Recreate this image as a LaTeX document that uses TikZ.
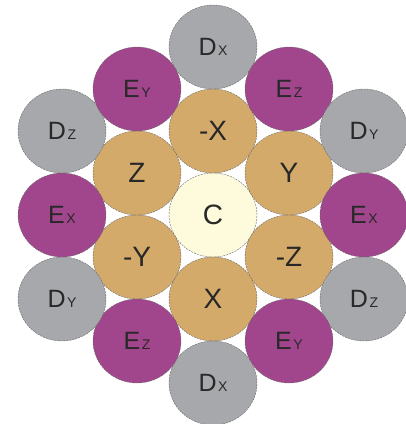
\documentclass[tikz,border=0pt]{standalone}
\usepackage{fontspec}
\setmainfont{Liberation Sans}
\usetikzlibrary{shapes.geometric}
\definecolor{ballgray}{RGB}{167,168,171}
\definecolor{ballpurple}{RGB}{161,70,140}
\definecolor{balltan}{RGB}{212,170,107}
\definecolor{ballcream}{RGB}{254,250,220}
\definecolor{inkgray}{RGB}{40,40,40}
\newcommand{\lbl}[2]{{\fontsize{25}{25}\selectfont #1}\kern1.5pt{\fontsize{14}{14}\selectfont #2}}

\begin{document}
\begin{tikzpicture}[
        x=1pt, y=-1pt,
        ball/.style={ellipse, draw=inkgray!70, dashed, dash pattern=on 2pt off 1pt, line width=0.4pt, minimum width=88pt, minimum height=84pt, inner sep=0pt, text=inkgray},
        dball/.style={ball, fill=ballgray},
        eball/.style={ball, fill=ballpurple},
        axis/.style={ball, fill=balltan, font=\fontsize{28}{28}\selectfont},
        core/.style={ball, fill=ballcream, font=\fontsize{28}{28}\selectfont}
    ]
        \useasboundingbox (0,0) rectangle (406,424);
        % centre
        \node[core] (c) at (213,215) {C};
        % inner ring
        \node[axis] (mx) at (213,131) {-X};
        \node[axis] (py) at (289,173) {Y};
        \node[axis] (mz) at (289,257) {-Z};
        \node[axis] (px) at (213,299) {X};
        \node[axis] (my) at (137,257) {-Y};
        \node[axis] (pz) at (137,173) {Z};
        % outer ring
        \node[dball] (dxtop) at (213,47) {\lbl{D}{X}};
        \node[eball] (eztop) at (289,89) {\lbl{E}{Z}};
        \node[dball] (dyright) at (364,131) {\lbl{D}{Y}};
        \node[eball] (exright) at (364,215) {\lbl{E}{X}};
        \node[dball] (dzright) at (364,299) {\lbl{D}{Z}};
        \node[eball] (eybot) at (289,341) {\lbl{E}{Y}};
        \node[dball] (dxbot) at (213,383) {\lbl{D}{X}};
        \node[eball] (ezbot) at (137,341) {\lbl{E}{Z}};
        \node[dball] (dyleft) at (62,299) {\lbl{D}{Y}};
        \node[eball] (exleft) at (62,215) {\lbl{E}{X}};
        \node[dball] (dzleft) at (62,131) {\lbl{D}{Z}};
        \node[eball] (eytop) at (137,89) {\lbl{E}{Y}};
\end{tikzpicture}
\end{document}
